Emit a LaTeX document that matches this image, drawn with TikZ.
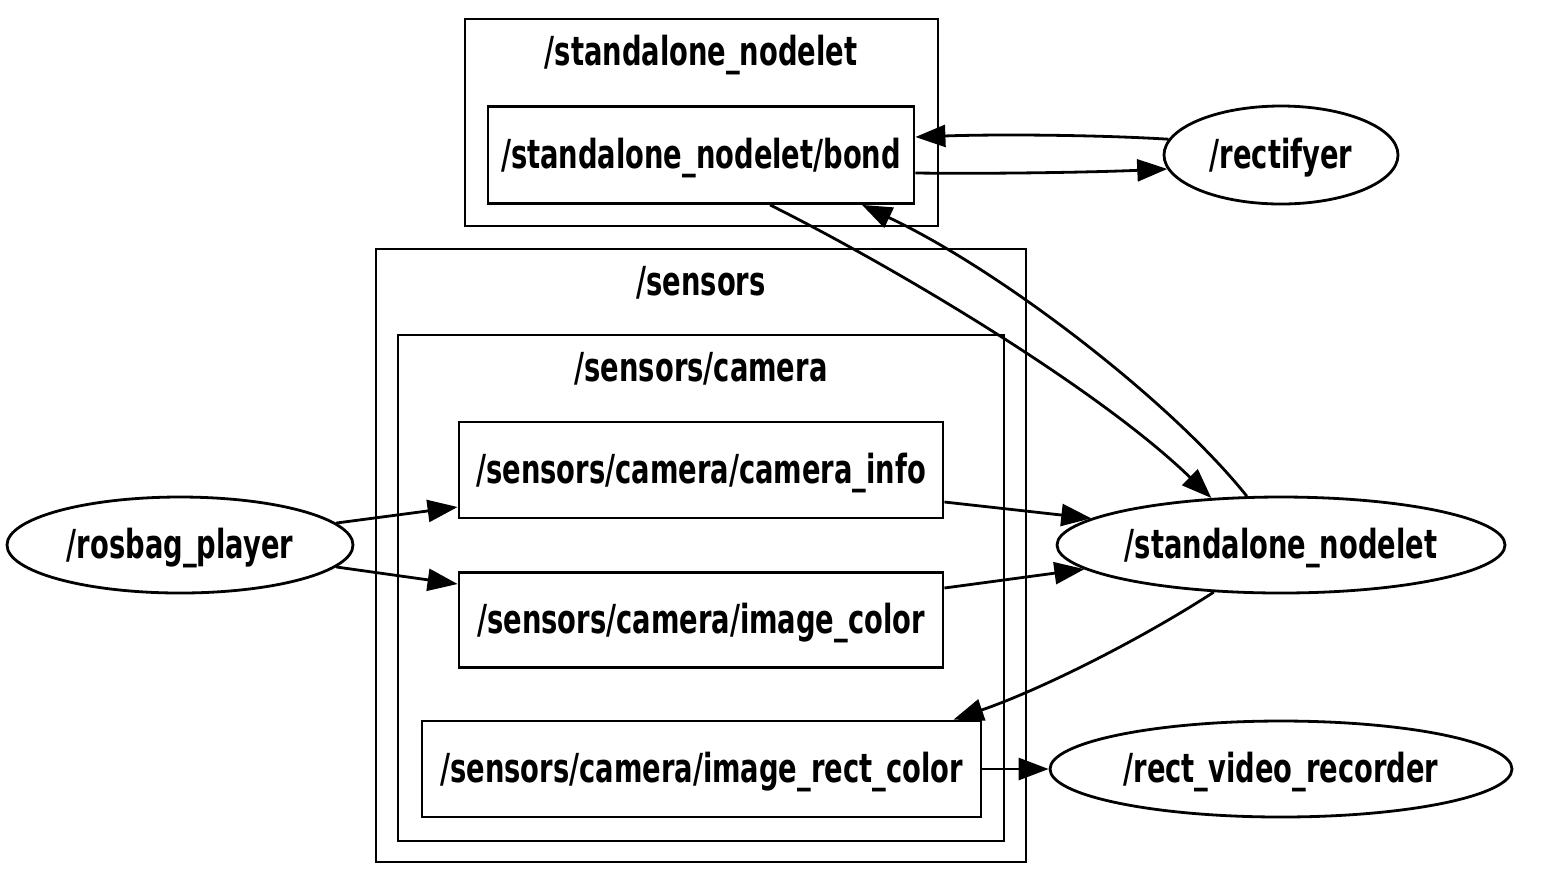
\documentclass[tikz,border=0pt]{standalone}
\usepackage{fontspec}
\setmainfont{DejaVu Sans Condensed}[FakeStretch=0.76]
\usepackage{tikz}
\usetikzlibrary{arrows.meta,shapes.geometric}

\begin{document}
\begin{tikzpicture}[x=0.5pt, y=-0.5pt,
		font=\fontsize{20}{24}\selectfont\bfseries,
		every node/.style={text height=17.5pt, text depth=4pt},
		topic/.style={draw, line width=1.4pt, rectangle, inner sep=0pt},
		rosnode/.style={draw, line width=1.4pt, ellipse, inner sep=0pt, minimum height=48pt},
		cluster/.style={draw, line width=1.3pt, rectangle, inner sep=0pt},
		edge/.style={line width=1.4pt, -{Triangle[length=15pt, width=11pt]}}]
	\useasboundingbox (0,0) rectangle (1562,880);

	\node[cluster, minimum width=236.5pt, minimum height=103.5pt] (clnodelet) at (701.5,122.5) {};
	\node (clnodeletlbl) at (701,52) {/standalone\_nodelet};
	\node[cluster, minimum width=325pt, minimum height=306.5pt] (clsensors) at (701,555.5) {};
	\node (clsensorslbl) at (701,282) {/sensors};
	\node[cluster, minimum width=303pt, minimum height=253pt] (clcamera) at (701,588) {};
	\node (clcameralbl) at (701,368) {/sensors/camera};

	\node[topic, minimum width=213pt, minimum height=48.5pt] (bond) at (701,155) {/standalone\_nodelet/bond};
	\node[topic, minimum width=242pt, minimum height=48pt] (caminfo) at (701,470) {/sensors/camera/camera\_info};
	\node[topic, minimum width=242pt, minimum height=47.5pt] (imgcolor) at (701,620) {/sensors/camera/image\_color};
	\node[topic, minimum width=279.5pt, minimum height=48pt] (imgrect) at (701.5,769) {/sensors/camera/image\_rect\_color};

	\node[rosnode, minimum width=117pt, minimum height=49pt] (rectifyer) at (1281,155) {/rectifyer};
	\node[rosnode, minimum width=173pt] (rosbag) at (180,545) {/rosbag\_player};
	\node[rosnode, minimum width=224pt] (nodelet) at (1281,545) {/standalone\_nodelet};
	\node[rosnode, minimum width=231pt] (recorder) at (1281,769) {/rect\_video\_recorder};

	\draw[edge] (rectifyer.172) .. controls (1100,135) and (1000,134) .. ([yshift=9pt]bond.east);
	\draw[edge] ([yshift=-9pt]bond.east) .. controls (1000,174) and (1100,172) .. (rectifyer.187);
	\draw[edge] ([xshift=34.5pt]bond.south) .. controls (900,270) and (1100,390) .. (nodelet.146);
	\draw[edge] (nodelet.125) .. controls (1170,400) and (1000,270) .. ([xshift=80.5pt]bond.south);
	\draw[edge] (rosbag.8.4) -- ([yshift=-18.5pt]caminfo.west);
	\draw[edge] (rosbag.-8.4) -- ([yshift=18pt]imgcolor.west);
	\draw[edge] ([yshift=-16pt]caminfo.east) -- (nodelet.172.6);
	\draw[edge] ([yshift=16pt]imgcolor.east) -- (nodelet.187.2);
	\draw[edge] (nodelet.215.6) .. controls (1140,640) and (1040,690) .. ([xshift=126pt]imgrect.north);
	\draw[edge] (imgrect.east) -- (recorder.west);
\end{tikzpicture}
\end{document}
